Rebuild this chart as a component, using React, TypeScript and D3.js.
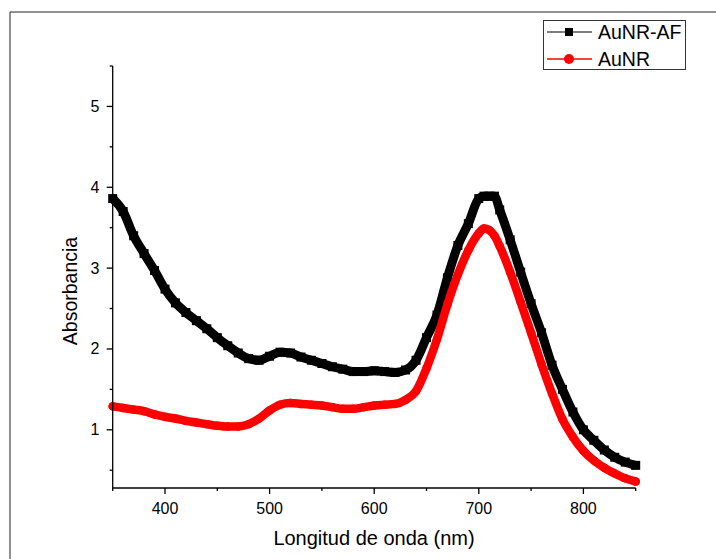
import React from "react";
import * as d3 from "d3";

const wavelengths = [350,360,370,380,390,400,410,420,430,440,450,460,470,480,490,500,510,520,530,540,550,560,570,580,590,600,610,620,630,640,650,660,670,680,690,700,705,710,715,720,730,740,750,760,770,780,790,800,810,820,830,840,850];

const aunrAF = [3.86,3.70,3.40,3.18,2.97,2.74,2.57,2.45,2.35,2.25,2.14,2.04,1.95,1.88,1.86,1.91,1.96,1.95,1.90,1.86,1.82,1.78,1.75,1.72,1.72,1.73,1.72,1.71,1.74,1.86,2.14,2.42,2.88,3.28,3.55,3.86,3.89,3.89,3.89,3.72,3.35,2.95,2.56,2.2,1.8,1.5,1.22,1.0,0.87,0.75,0.66,0.6,0.56];

const aunr = [1.29,1.27,1.25,1.23,1.19,1.16,1.14,1.11,1.09,1.07,1.05,1.04,1.04,1.07,1.14,1.24,1.31,1.33,1.32,1.31,1.30,1.28,1.26,1.26,1.28,1.30,1.31,1.32,1.37,1.48,1.76,2.12,2.55,2.92,3.22,3.43,3.49,3.47,3.40,3.27,2.95,2.58,2.2,1.81,1.45,1.13,0.91,0.74,0.62,0.53,0.46,0.40,0.36];

const xMajorTicks = [400,500,600,700,800];
const xMinorTicks = [350,450,550,650,750,850];
const yMajorTicks = [1,2,3,4,5];
const yMinorTicks = [0.5,1.5,2.5,3.5,4.5,5.5];

const seriesNames = ["AuNR-AF","AuNR"];

const FONT = "'Liberation Sans', Arial, sans-serif";

export default function App() {
  const x = d3.scaleLinear().domain([350, 850]).range([112.7, 635.7]);
  const y = d3.scaleLinear().domain([0.28, 5.5]).range([488, 66]);

  const line = d3.line<number>()
    .x((_, i) => x(wavelengths[i]))
    .y((d) => y(d))
    .curve(d3.curveMonotoneX);

  const blackPath = line(aunrAF) || "";
  const redPath = line(aunr) || "";

  return (
    <svg width={716} height={559} style={{ position: "absolute", left: 0, top: 0, background: "#fff" }} fontFamily={FONT}>
      <rect x={0} y={0} width={716} height={559} fill="#fff" />
      {/* page frame */}
      <line x1={10} y1={12} x2={716} y2={12} stroke="#222" strokeWidth={1} />
      <line x1={10} y1={12} x2={10} y2={559} stroke="#222" strokeWidth={1} />

      {/* curves */}
      <path d={blackPath} fill="none" stroke="#000" strokeWidth={9} strokeLinejoin="round" />
      {aunrAF.map((v, i) => (
        <rect key={"b" + i} x={x(wavelengths[i]) - 4.5} y={y(v) - 4.5} width={9} height={9} fill="#000" />
      ))}
      <path d={redPath} fill="none" stroke="#ff0000" strokeWidth={8.5} strokeLinecap="round" strokeLinejoin="round" />
      {aunr.map((v, i) => (
        <circle key={"r" + i} cx={x(wavelengths[i])} cy={y(v)} r={4.25} fill="#ff0000" />
      ))}

      {/* x axis */}
      <line x1={x(350)} y1={488} x2={x(850)} y2={488} stroke="#000" strokeWidth={1.3} />
      {xMajorTicks.map((t) => (
        <g key={"xt" + t}>
          <line x1={x(t)} y1={488} x2={x(t)} y2={494} stroke="#000" strokeWidth={1.3} />
          <text x={x(t)} y={514} fontSize={16} textAnchor="middle" fill="#000">{t}</text>
        </g>
      ))}
      {xMinorTicks.map((t) => (
        <line key={"xm" + t} x1={x(t)} y1={488} x2={x(t)} y2={491} stroke="#000" strokeWidth={1.3} />
      ))}
      <text x={374} y={545} fontSize={20} textAnchor="middle" fill="#000">Longitud de onda (nm)</text>

      {/* y axis */}
      <line x1={112.7} y1={y(5.5)} x2={112.7} y2={488} stroke="#000" strokeWidth={1.3} />
      {yMajorTicks.map((t) => (
        <g key={"yt" + t}>
          <line x1={106.7} y1={y(t)} x2={112.7} y2={y(t)} stroke="#000" strokeWidth={1.3} />
          <text x={99.5} y={y(t) + 5.5} fontSize={16} textAnchor="end" fill="#000">{t}</text>
        </g>
      ))}
      {yMinorTicks.map((t) => (
        <line key={"ym" + t} x1={109.7} y1={y(t)} x2={112.7} y2={y(t)} stroke="#000" strokeWidth={1.3} />
      ))}
      <text transform="translate(77,291) rotate(-90)" fontSize={19.5} textAnchor="middle" fill="#000">Absorbancia</text>

      {/* legend */}
      <rect x={543.5} y={20.5} width={142} height={49} fill="#fff" stroke="#333" strokeWidth={1} />
      <line x1={547} y1={32} x2={592} y2={32} stroke="#555" strokeWidth={1.3} />
      <rect x={565} y={28} width={8} height={8} fill="#000" />
      <text x={598} y={38.5} fontSize={19.5} fill="#000">{seriesNames[0]}</text>
      <line x1={547} y1={59} x2={592} y2={59} stroke="#ff0000" strokeWidth={1.3} />
      <circle cx={569} cy={59} r={5} fill="#ff0000" />
      <text x={598} y={65.5} fontSize={19.5} fill="#000">{seriesNames[1]}</text>
    </svg>
  );
}
